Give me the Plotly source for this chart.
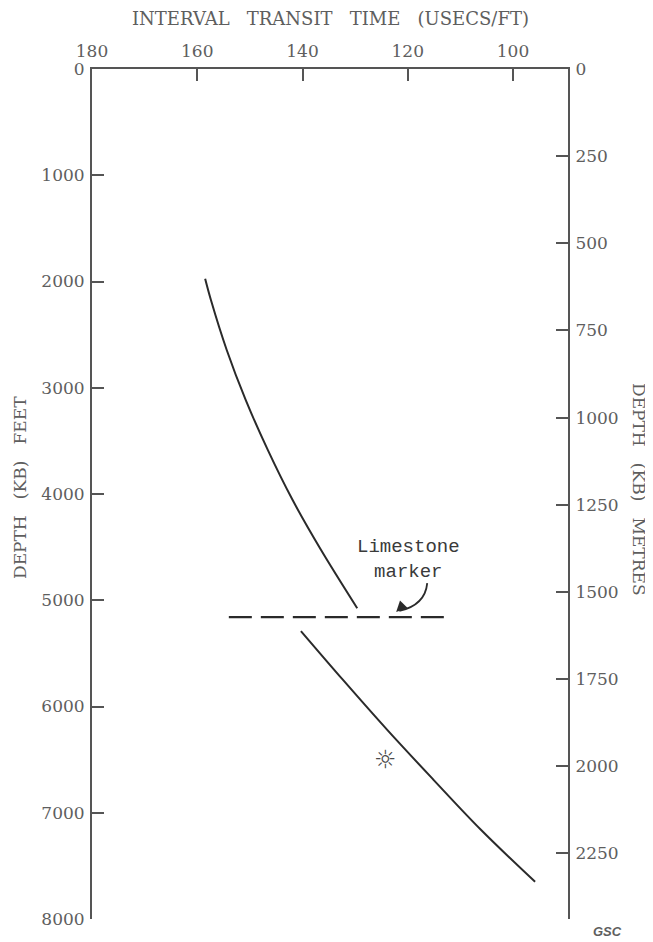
import plotly.graph_objects as go

# ---- data ----
x_ticks = [180, 160, 140, 120, 100]
feet_ticks = [0, 1000, 2000, 3000, 4000, 5000, 6000, 7000, 8000]
metre_ticks = [0, 250, 500, 750, 1000, 1250, 1500, 1750, 2000, 2250]

upper_depth_ft = [1975, 2175, 2645, 3115, 3585, 4055, 4525, 5075]
upper_dt = [158.5, 157.4, 154.4, 150.8, 146.6, 141.9, 136.5, 129.6]

lower_depth_ft = [5290, 5750, 6220, 6690, 7160, 7650]
lower_dt = [140.3, 132.3, 123.9, 115.1, 106.1, 95.8]

marker_depth_ft = [5158, 5158]
marker_dt = [154, 113]

sun_dt = [124.3]
sun_depth_ft = [6520]

X_RANGE = [180, 89.55]
Y_RANGE_FT = [8000, 0]
Y_RANGE_M = [8000 * 0.3048, 0]

GREY = "#5e5e5e"
LINE = "#2a2a2a"
SERIF = "DejaVu Serif, Liberation Serif, serif"
NB = "\u00a0"

# the page body adds an 8px offset, so the figure is 8px smaller than the window
OFF = 8

fig = go.Figure()

fig.add_trace(go.Scatter(x=upper_dt, y=upper_depth_ft, mode="lines",
                         line=dict(color=LINE, width=2, shape="spline"),
                         hoverinfo="skip", showlegend=False))
fig.add_trace(go.Scatter(x=lower_dt, y=lower_depth_ft, mode="lines",
                         line=dict(color=LINE, width=2, shape="spline"),
                         hoverinfo="skip", showlegend=False))
fig.add_trace(go.Scatter(x=marker_dt, y=marker_depth_ft, mode="lines",
                         line=dict(color=LINE, width=2.2, dash="23px,9px"),
                         hoverinfo="skip", showlegend=False))
fig.add_trace(go.Scatter(x=sun_dt, y=sun_depth_ft, mode="text", text=["☼"],
                         textfont=dict(family="DejaVu Sans", size=25, color="#4a4a4a"),
                         textposition="middle center",
                         hoverinfo="skip", showlegend=False))
# invisible trace on the metres axis
fig.add_trace(go.Scatter(x=[None], y=[None], yaxis="y2", mode="lines",
                         hoverinfo="skip", showlegend=False))

axis_common = dict(showgrid=False, zeroline=False, showline=True,
                   linecolor="#555", linewidth=2, ticks="inside",
                   ticklen=12, tickwidth=2, tickcolor="#555",
                   tickfont=dict(family=SERIF, size=17, color=GREY))

fig.update_layout(
    width=653 - OFF, height=942 - OFF,
    margin=dict(l=92 - OFF, r=85, t=69 - OFF, b=23),
    paper_bgcolor="white", plot_bgcolor="white",
    xaxis=dict(range=X_RANGE, side="top", tickvals=x_ticks,
               ticklabelstandoff=3, **axis_common),
    yaxis=dict(range=Y_RANGE_FT, tickvals=feet_ticks,
               ticklabelstandoff=2, **axis_common),
    yaxis2=dict(range=Y_RANGE_M, tickvals=metre_ticks, overlaying="y",
                side="right", anchor="x", ticklabelstandoff=2, **axis_common),
)

# curved marker arrow: curved stroke + arrowhead
fig.add_shape(type="path", xref="x", yref="y",
              path="M 116.3,4838 Q 116.7,5045 121.6,5100",
              line=dict(color=LINE, width=1.8))
fig.add_annotation(x=122.2, y=5110, xref="x", yref="y", ax=6, ay=-6,
                   showarrow=True, arrowhead=2, arrowsize=1.2, arrowwidth=1.8,
                   arrowcolor=LINE, text="")

# page-pixel -> paper coordinates (plot area spans x 92..568, y 69..919 on the page)
def px_x(px):
    return (px - 92) / 476

def px_y(py):
    return (919 - py) / 850

title_top = (NB * 3).join(["INTERVAL", "TRANSIT", "TIME", "(USECS/FT)"])
title_left = "DEPTH" + NB * 3 + "(KB)" + NB * 3 + "FEET"
title_right = "DEPTH" + NB * 3 + "(KB)" + NB * 3 + "METRES"

annos = [
    dict(text="Limestone<br>marker", x=px_x(408), y=px_y(559),
         font=dict(family="Liberation Mono, Courier New, monospace", size=19, color="#3a3a3a")),
    dict(text=title_top, x=px_x(330), y=px_y(19),
         font=dict(family=SERIF, size=18, color=GREY)),
    dict(text=title_left, x=px_x(20), y=px_y(488), textangle=-90,
         font=dict(family=SERIF, size=17, color=GREY)),
    dict(text=title_right, x=px_x(639), y=px_y(489), textangle=90,
         font=dict(family=SERIF, size=17, color=GREY)),
    dict(text="<b><i>GSC</i></b>", x=px_x(607), y=px_y(931),
         font=dict(family="Liberation Sans, Arial, sans-serif", size=13, color=GREY)),
]
for a in annos:
    fig.add_annotation(xref="paper", yref="paper", showarrow=False,
                       xanchor="center", yanchor="middle", align="center", **a)

fig.write_html("out.html")
